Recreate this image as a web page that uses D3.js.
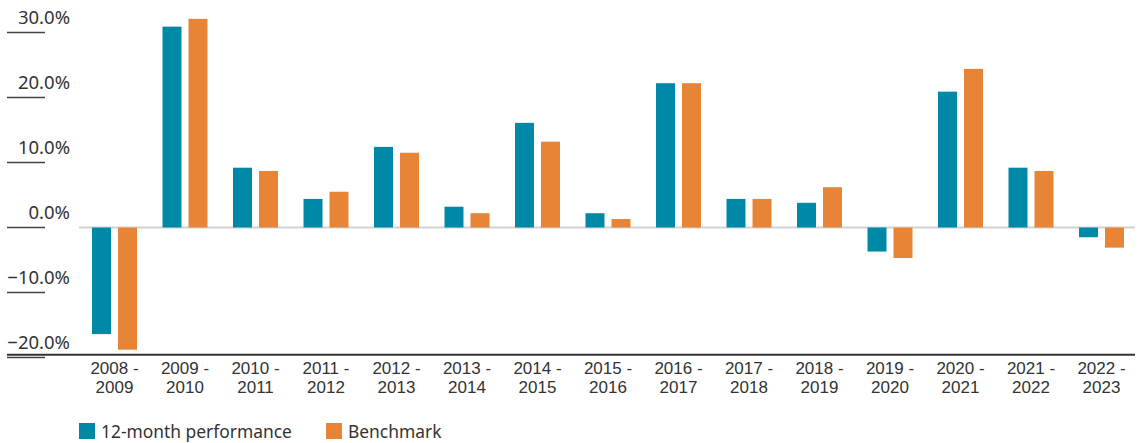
<!DOCTYPE html>
<meta charset="utf-8">
<html lang="en">
<head>
  <title>12-month performance vs benchmark</title>
  <script src="https://d3js.org/d3.v7.min.js"></script>
  <style>
    body { margin: 0; background: #fff; }
    svg text { font-family: "Noto Sans", "Open Sans", sans-serif; fill: #333; }
    svg text.period { font-family: "Liberation Sans", Arial, sans-serif; }
  </style>
</head>
<body>
<div id="chart"></div>
<script>
// chart data
var periods = ["2008 - 2009", "2009 - 2010", "2010 - 2011", "2011 - 2012", "2012 - 2013",
               "2013 - 2014", "2014 - 2015", "2015 - 2016", "2016 - 2017", "2017 - 2018",
               "2018 - 2019", "2019 - 2020", "2020 - 2021", "2021 - 2022", "2022 - 2023"];
var performance = [-16.4, 30.9, 9.2, 4.4, 12.4, 3.2, 16.1, 2.2, 22.2, 4.4, 3.8, -3.7, 20.9, 9.2, -1.5];
var benchmark   = [-18.8, 32.1, 8.7, 5.5, 11.5, 2.2, 13.2, 1.3, 22.2, 4.4, 6.2, -4.7, 24.4, 8.7, -3.1];
var seriesNames = ["12-month performance", "Benchmark"];
var yTicks = [-20, -10, 0, 10, 20, 30];

var colors = {"12-month performance": "#0089a6", "Benchmark": "#e88436"};

var width = 1144, height = 443;

var svg = d3.select("#chart")
  .append("svg")
    .attr("width", width)
    .attr("height", height);

// scales
var x0 = d3.scaleBand()
    .domain(periods)
    .range([79.25, 1136.75])
    .padding(0);

var x1 = d3.scaleBand()
    .domain(seriesNames)
    .range([0, 45])
    .paddingInner(0.27)
    .paddingOuter(0);

var y = d3.scaleLinear()
    .domain([-20, 30])
    .range([357.5, 32.5]);

// y axis: short tick lines with labels sitting above them
var yAxis = svg.append("g");
yAxis.selectAll("line")
  .data(yTicks)
  .enter().append("line")
    .attr("x1", 7)
    .attr("x2", 45)
    .attr("y1", function(d) { return y(d); })
    .attr("y2", function(d) { return y(d); })
    .style("stroke", "#444")
    .style("stroke-width", 1.5);

yAxis.selectAll("text")
  .data(yTicks)
  .enter().append("text")
    .attr("x", 70)
    .attr("y", function(d) { return y(d) - 9; })
    .style("text-anchor", "end")
    .style("font-size", "18.5px")
    .text(function(d) { return d3.format(".1f")(d) + "%"; });

// zero line
svg.append("line")
    .attr("x1", 79)
    .attr("x2", 1135)
    .attr("y1", y(0))
    .attr("y2", y(0))
    .style("stroke", "#d2d2d2")
    .style("stroke-width", 2);

// bars
var rows = periods.map(function(p, i) {
  return {period: p, values: [
    {key: seriesNames[0], value: performance[i]},
    {key: seriesNames[1], value: benchmark[i]}
  ]};
});

var groups = svg.append("g").selectAll("g")
  .data(rows)
  .enter().append("g")
    .attr("transform", function(d) {
      return "translate(" + (x0(d.period) + (x0.bandwidth() - 45) / 2) + ",0)";
    });

groups.selectAll("rect")
  .data(function(d) { return d.values; })
  .enter().append("rect")
    .attr("x", function(d) { return x1(d.key); })
    .attr("width", x1.bandwidth())
    .attr("y", function(d) { return y(Math.max(0, d.value)); })
    .attr("height", function(d) { return Math.abs(y(d.value) - y(0)); })
    .style("fill", function(d) { return colors[d.key]; });

// bottom axis line
svg.append("line")
    .attr("x1", 7)
    .attr("x2", 1135)
    .attr("y1", 354.7)
    .attr("y2", 354.7)
    .style("stroke", "#333")
    .style("stroke-width", 2);

// category labels, split over two lines
var labelLines = [
  {y: 373.8, part: function(d) { return d.split(" - ")[0] + " -"; }},
  {y: 393.2, part: function(d) { return d.split(" - ")[1]; }}
];
labelLines.forEach(function(line) {
  svg.append("g").selectAll("text")
    .data(periods)
    .enter().append("text")
      .attr("class", "period")
      .attr("x", function(d) { return x0(d) + x0.bandwidth() / 2; })
      .attr("y", line.y)
      .style("text-anchor", "middle")
      .style("font-size", "17px")
      .text(line.part);
});

// legend
var legendX = [79, 326];
var legend = svg.append("g").selectAll("g")
  .data(seriesNames)
  .enter().append("g")
    .attr("transform", function(d, i) { return "translate(" + legendX[i] + ",423)"; });

legend.append("rect")
    .attr("width", 16)
    .attr("height", 16)
    .style("fill", function(d) { return colors[d]; });

legend.append("text")
    .attr("x", 22)
    .attr("y", 15)
    .style("font-size", "17.4px")
    .text(function(d) { return d; });
</script>
</body>
</html>
